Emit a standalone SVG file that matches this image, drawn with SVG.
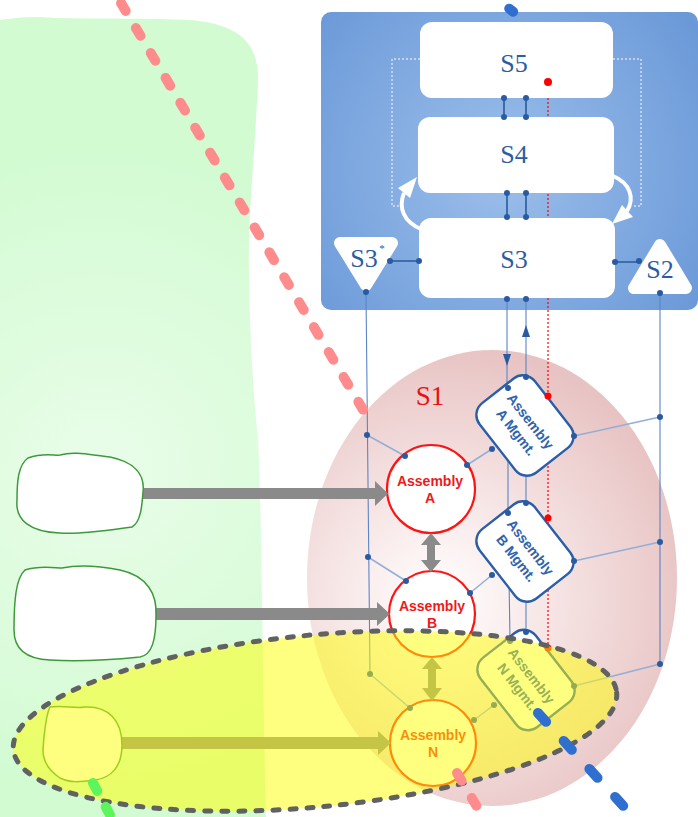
<svg xmlns="http://www.w3.org/2000/svg" width="698" height="817" viewBox="0 0 698 817">
<defs>
<radialGradient id="gGreen" gradientUnits="userSpaceOnUse" cx="100" cy="470" r="330">
<stop offset="0" stop-color="#e9fde9"/>
<stop offset="1" stop-color="#d2fbd2"/>
</radialGradient>
<radialGradient id="gPink" gradientUnits="userSpaceOnUse" cx="440" cy="600" r="255">
<stop offset="0" stop-color="#ffffff"/>
<stop offset="0.25" stop-color="#fbf0f0"/>
<stop offset="1" stop-color="#e8c3c3"/>
</radialGradient>
<radialGradient id="gBlue" gradientUnits="userSpaceOnUse" cx="500" cy="170" r="240">
<stop offset="0" stop-color="#9cbfeb"/>
<stop offset="1" stop-color="#6b99d8"/>
</radialGradient>
<marker id="tri" viewBox="0 0 12 8" refX="12" refY="4" markerWidth="12" markerHeight="8" markerUnits="userSpaceOnUse" orient="auto">
<path d="M0,0 L12,4 L0,8 Z" fill="#2a5aa0"/>
</marker>
<style>
.slabel{font-family:"Liberation Serif","Times New Roman",serif;font-size:26px;fill:#2c5d9f;text-anchor:middle}
.sbox{fill:#ffffff}
.ln{stroke:#5a85c6;stroke-width:1.1;fill:none}
.lnl{stroke:#93aed8;stroke-width:1.5;fill:none}
.lnd{stroke:#2a5a9c;stroke-width:1.6;fill:none}
.dot{fill:#2a5aa0}
.red{stroke:#ff0000;stroke-width:1.2;stroke-dasharray:2 2;fill:none}
.rdot{fill:#ff0000}
.fb{stroke:#ffffff;stroke-width:1;stroke-dasharray:2 2;fill:none}
.curv{stroke:#ffffff;stroke-width:4;fill:none}
.asm{fill:#ffffff;stroke:#ff1414;stroke-width:2.2}
.at{font-family:"Liberation Sans",Arial,sans-serif;font-weight:bold;font-size:14px;fill:#ee1a1a;text-anchor:middle}
.mg{fill:#ffffff;stroke:#2a5ea8;stroke-width:2.4}
.mt{font-family:"Liberation Sans",Arial,sans-serif;font-weight:bold;font-size:14px;fill:#2f63ad;text-anchor:middle}
.fat{fill:#8a8a8a}
.blob{fill:#ffffff;stroke:#3c9a3c;stroke-width:1.5}
.dash{fill:none;stroke-linecap:round;stroke-width:10}
</style>
</defs>

<g id="env-region">
<path d="M0,20 C20,17 35,16 55,18 C100,19 150,18 190,20 C238,24 258,42 258,78 C257,120 250,200 249,240 C248,300 252,380 258,440 C262,520 262,650 266,817 L0,817 Z" fill="url(#gGreen)"/>
</g>

<g id="S1">
<ellipse cx="492" cy="578" rx="185" ry="228" fill="url(#gPink)"/>
<text x="430" y="405" font-family="Liberation Serif, Times New Roman, serif" font-size="27" fill="#e81010" text-anchor="middle">S1</text>
</g>

<g id="meta-system">
<rect x="321" y="12" width="377" height="298" rx="10" fill="url(#gBlue)"/>
</g>

<g id="connectors">
<path class="lnd" d="M504,98V117 M526,98V117 M507,193V217 M526,193V217 M390,261H419 M615,262H639"/>
<path class="fb" d="M420,59H392V206H402 M613,59H641V206H633"/>
<path class="curv" d="M421,229 C404,222 398,208 404,193"/>
<polygon points="417,177 410,198 398,188" fill="#ffffff"/>
<path class="curv" d="M613,176 C630,183 635,198 627,211"/>
<polygon points="612,224 622,205 633,217" fill="#ffffff"/>
<path class="red" d="M548,82V650"/>
<path class="ln" d="M507,299V366" marker-end="url(#tri)"/>
<path class="ln" d="M507,366V388"/>
<path class="ln" d="M526,377V325" marker-end="url(#tri)"/>
<path class="ln" d="M526,325V299"/>
<path class="ln" d="M508,388V513 L510,641 M526,377V632"/>
<path class="ln" d="M366,292 L370,674 M660,293V664"/>
<path class="lnl" d="M367,435 L405,456 M368,557 L406,581 M370,674 L410,708"/>
<path class="lnl" d="M467,465 L492,449 M470,593 L492,575 M474,720 L494,705"/>
<path class="lnl" d="M660,417 L574,436 M660,542 L574,561 M660,664 L574,686"/>
</g>

<g id="S5">
<rect class="sbox" x="420" y="22" width="193" height="76" rx="12"/>
<text class="slabel" x="514" y="72">S5</text>
</g>
<g id="S4">
<rect class="sbox" x="418" y="117" width="196" height="76" rx="12"/>
<text class="slabel" x="514" y="163">S4</text>
</g>
<g id="S3">
<rect class="sbox" x="419" y="218" width="196" height="80" rx="12"/>
<text class="slabel" x="514" y="268">S3</text>
</g>
<g id="S3star">
<polygon points="340,243 392,243 366,285" fill="#ffffff" stroke="#ffffff" stroke-width="12" stroke-linejoin="round"/>
<text class="slabel" x="364" y="267">S3</text>
<text x="382" y="252" font-family="Liberation Serif, serif" font-size="11" fill="#2c5d9f" text-anchor="middle">*</text>
</g>
<g id="S2">
<polygon points="634,288 686,288 660,245" fill="#ffffff" stroke="#ffffff" stroke-width="12" stroke-linejoin="round"/>
<text class="slabel" x="660" y="278">S2</text>
</g>

<g id="mgmtA" transform="translate(525,425.5) rotate(52)">
<rect class="mg" x="-44" y="-35" width="88" height="70" rx="15"/>
<text class="mt" y="-2">Assembly</text>
<text class="mt" y="16">A Mgmt.</text>
</g>
<g id="mgmtB" transform="translate(525,551.5) rotate(52)">
<rect class="mg" x="-44" y="-35" width="88" height="70" rx="15"/>
<text class="mt" y="-2">Assembly</text>
<text class="mt" y="16">B Mgmt.</text>
</g>
<g id="mgmtN" transform="translate(526,680) rotate(52)">
<rect class="mg" x="-44" y="-35" width="88" height="70" rx="15"/>
<text class="mt" y="-2">Assembly</text>
<text class="mt" y="16">N Mgmt.</text>
</g>

<g id="assemblyA">
<circle class="asm" cx="431" cy="489" r="44"/>
<text class="at" x="430" y="486">Assembly</text>
<text class="at" x="430" y="503">A</text>
</g>
<g id="assemblyB">
<circle class="asm" cx="432" cy="614" r="43"/>
<text class="at" x="432" y="611">Assembly</text>
<text class="at" x="432" y="628">B</text>
</g>
<g id="assemblyN">
<circle class="asm" cx="433" cy="743" r="43"/>
<text class="at" x="433" y="740">Assembly</text>
<text class="at" x="433" y="757">N</text>
</g>

<g id="ports">
<circle class="dot" cx="504" cy="98" r="3"/><circle class="dot" cx="504" cy="117" r="3"/>
<circle class="dot" cx="526" cy="98" r="3"/><circle class="dot" cx="526" cy="117" r="3"/>
<circle class="dot" cx="507" cy="193" r="3"/><circle class="dot" cx="507" cy="217" r="3"/>
<circle class="dot" cx="526" cy="193" r="3"/><circle class="dot" cx="526" cy="217" r="3"/>
<circle class="dot" cx="390" cy="261" r="3"/><circle class="dot" cx="419" cy="261" r="3"/>
<circle class="dot" cx="615" cy="262" r="3"/><circle class="dot" cx="639" cy="261" r="3"/>
<circle class="dot" cx="366" cy="292" r="3"/><circle class="dot" cx="660" cy="293" r="3"/>
<circle class="dot" cx="507" cy="299" r="3"/><circle class="dot" cx="526" cy="299" r="3"/>
<circle class="rdot" cx="548" cy="82" r="4"/>
<circle class="dot" cx="508" cy="388" r="3"/><circle class="dot" cx="526" cy="377" r="3"/>
<circle class="rdot" cx="548" cy="396" r="3.5"/>
<circle class="dot" cx="574" cy="436" r="3"/><circle class="dot" cx="492" cy="449" r="3"/>
<circle class="dot" cx="508" cy="513" r="3"/><circle class="dot" cx="526" cy="503" r="3"/>
<circle class="rdot" cx="548" cy="518" r="3.5"/>
<circle class="dot" cx="574" cy="561" r="3"/><circle class="dot" cx="492" cy="575" r="3"/>
<circle class="dot" cx="510" cy="641" r="3"/><circle class="dot" cx="526" cy="632" r="3"/>
<circle class="rdot" cx="548" cy="648" r="3.5"/>
<circle class="dot" cx="574" cy="686" r="3"/><circle class="dot" cx="494" cy="705" r="3"/>
<circle class="dot" cx="367" cy="435" r="3"/><circle class="dot" cx="368" cy="557" r="3"/><circle class="dot" cx="370" cy="674" r="3"/>
<circle class="dot" cx="405" cy="456" r="3"/><circle class="dot" cx="467" cy="465" r="3"/>
<circle class="dot" cx="406" cy="581" r="3"/><circle class="dot" cx="470" cy="593" r="3"/>
<circle class="dot" cx="410" cy="708" r="3"/><circle class="dot" cx="474" cy="720" r="3"/>
<circle class="dot" cx="660" cy="417" r="3"/><circle class="dot" cx="660" cy="542" r="3"/><circle class="dot" cx="660" cy="664" r="3"/>
</g>

<g id="flows">
<polygon class="fat" points="142,488 375,488 375,481 388,493.5 375,506 375,499 142,499"/>
<polygon class="fat" points="156,608 377,608 377,602 390,614 377,626 377,620 156,620"/>
<polygon class="fat" points="121,737 378,737 378,731 391,743 378,755 378,749 121,749"/>
<polygon class="fat" points="431,533 421,545 427,545 427,560 421,560 431,572 441,560 435,560 435,545 441,545"/>
<polygon class="fat" points="432,657 422,669 428,669 428,688 422,688 432,701 442,688 436,688 436,669 442,669"/>
</g>

<g id="env1">
<path class="blob" d="M28,458 C45,452 55,456 60,455 C75,451 90,455 110,457 C135,462 145,475 143,492 C142,505 141,522 132,527 C110,530 80,535 60,533 C30,532 15,520 17,500 C17,482 18,465 28,458 Z"/>
</g>
<g id="env2">
<path class="blob" d="M25,570 C40,565 55,568 62,568 C80,564 100,566 120,570 C148,576 157,595 156,615 C156,640 152,655 140,657 C110,660 80,662 50,660 C25,659 14,648 14,630 C14,600 16,578 25,570 Z"/>
</g>
<g id="env3">
<path class="blob" d="M50,707 C65,705 75,709 85,707 C108,706 122,720 122,745 C122,768 110,778 95,780 C80,782 70,783 60,778 C48,770 43,760 43,750 C44,735 46,715 50,707 Z"/>
</g>

<g id="focus">
<ellipse cx="315" cy="721" rx="303" ry="86" transform="rotate(-5.4 315 721)" fill="#ffff00" fill-opacity="0.5"/>
<ellipse cx="315" cy="721" rx="303" ry="86" transform="rotate(-5.4 315 721)" fill="none" stroke="#616161" stroke-width="5" stroke-dasharray="6 11" stroke-linecap="round"/>
</g>

<g id="cut-lines">
<path class="dash" d="M118,-2 L368,418" stroke="#ff8c8c" stroke-dasharray="9 20" stroke-dashoffset="-6"/>
<path class="dash" d="M457,773 L486,822" stroke="#ff8c8c" stroke-dasharray="9 20"/>
<path class="dash" d="M488,-8 L516,14" stroke="#2f6fd0" stroke-dasharray="5 22"/>
<path class="dash" d="M538,713 L650,835" stroke="#2f6fd0" stroke-dasharray="12 26"/>
<path class="dash" d="M93,783 L116,826" stroke="#5cf55c" stroke-dasharray="9 18"/>
</g>
</svg>
